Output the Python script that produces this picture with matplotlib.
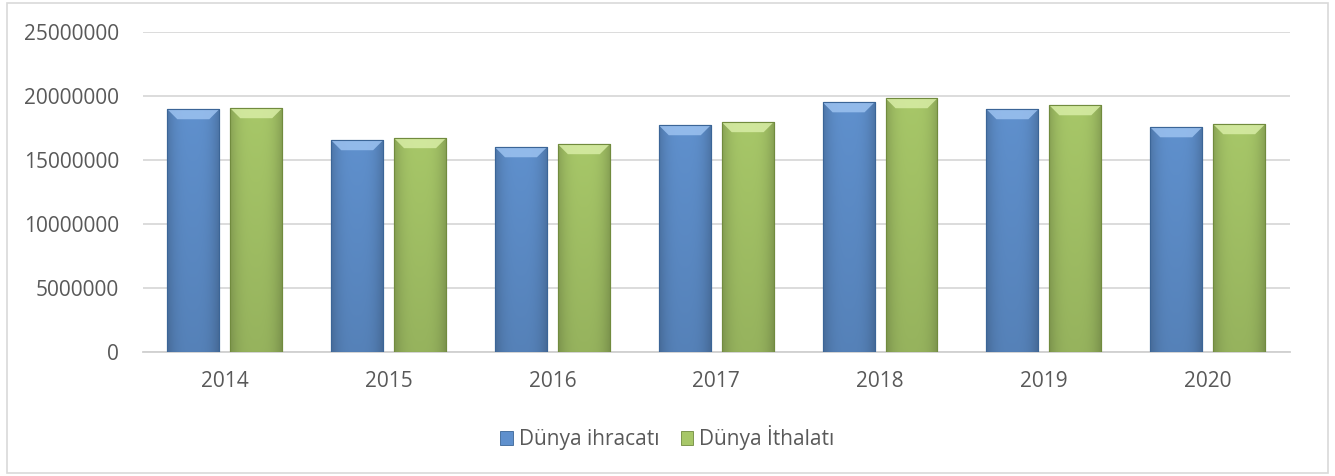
import numpy as np
import matplotlib
matplotlib.use("Agg")
import matplotlib.pyplot as plt
from matplotlib.patches import Polygon, Rectangle
from matplotlib.colors import to_rgb

years = ["2014", "2015", "2016", "2017", "2018", "2019", "2020"]
exports = [18960000, 16540000, 15990000, 17710000, 19500000, 18960000, 17550000]
imports = [19040000, 16700000, 16230000, 17950000, 19820000, 19270000, 17790000]
series_names = ["Dünya ihracatı", "Dünya İthalatı"]
yticks = [0, 5000000, 10000000, 15000000, 20000000, 25000000]

plt.rcParams['font.family'] = ['Open Sans', 'DejaVu Sans']
TXT = "#595959"

fig = plt.figure(figsize=(13.35, 4.76), dpi=100)
ax = fig.add_axes([0.107, 0.2605, 0.859, 0.6725])

x = np.arange(len(years))
bw = 0.317
gap = 0.067
off = (bw + gap) / 2

blue = "#5F90CD"
green = "#A7C768"
cols = [blue, green]
edges = ["#3B6597", "#718B3E"]
tops = ["#9CC2F0", "#D8EDA6"]

b1 = ax.bar(x - off, exports, bw, color=blue, edgecolor=edges[0], linewidth=0.8, zorder=3)
b2 = ax.bar(x + off, imports, bw, color=green, edgecolor=edges[1], linewidth=0.8, zorder=3)

ax.set_xlim(-0.5, len(years) - 0.5)
ax.set_ylim(0, 25000000)
ax.set_yticks(yticks)
ax.set_yticklabels([str(v) for v in yticks])
ax.set_xticks(x)
ax.set_xticklabels(years)
ax.tick_params(axis='both', length=0, labelsize=15, colors=TXT)
ax.tick_params(axis='y', pad=17)
ax.tick_params(axis='x', pad=14)
ax.grid(axis='y', color="#D9D9D9", linewidth=1.3, zorder=0)
ax.set_axisbelow(True)
for s in ["top", "right", "left"]:
    ax.spines[s].set_visible(False)
ax.spines["bottom"].set_color("#D0D0D0")
ax.spines["bottom"].set_linewidth(1.3)

fig.canvas.draw()
bbox = ax.get_window_extent()
dx = 1.0 / bbox.width * (ax.get_xlim()[1] - ax.get_xlim()[0])
dy = 1.0 / bbox.height * (ax.get_ylim()[1] - ax.get_ylim()[0])

nx, ny = 60, 60
gx = np.linspace(-1, 1, nx)
gy = np.linspace(0, 1, ny)[:, None]
prof = 1.0 - 0.18 * np.abs(gx) ** 3
vprof = 0.90 + 0.10 * gy
for cont, c, tc in zip([b1, b2], cols, tops):
    base = np.array(to_rgb(c))
    for r in cont:
        x0, w, h = r.get_x(), r.get_width(), r.get_height()
        fac = (prof[None, :] * vprof)[..., None]
        img = np.clip(base[None, None, :] * fac, 0, 1)
        im = ax.imshow(img, extent=(x0, x0 + w, 0, h), origin='lower',
                       aspect='auto', zorder=3.5, interpolation='bilinear')
        im.set_clip_path(r)
        d = 10
        poly = Polygon([(x0, h), (x0 + w, h), (x0 + w - d * dx, h - d * dy),
                        (x0 + d * dx, h - d * dy)], closed=True,
                       facecolor=tc, edgecolor='none', alpha=0.85, zorder=3.6)
        ax.add_patch(poly)
        ax.add_patch(Rectangle((x0, 0), w, h, facecolor='none',
                               edgecolor=r.get_edgecolor(), linewidth=0.8, zorder=3.7))

ax.set_xlim(-0.5, len(years) - 0.5)
ax.set_ylim(0, 25000000)

handles = [Rectangle((0, 0), 1, 1, facecolor=c, edgecolor=e, linewidth=0.6) for c, e in zip(cols, edges)]
fig.legend(handles, series_names, loc='center', bbox_to_anchor=(0.5, 0.08),
           ncol=2, frameon=False, fontsize=15, labelcolor=TXT,
           handlelength=0.6, handleheight=0.6, handletextpad=0.3, columnspacing=1.0)

border = Rectangle((0.005, 0.006), 0.99, 0.988, transform=fig.transFigure,
                   facecolor='none', edgecolor="#D9D9D9", linewidth=1.2)
fig.patches.append(border)

fig.savefig("out.png", dpi=100)
